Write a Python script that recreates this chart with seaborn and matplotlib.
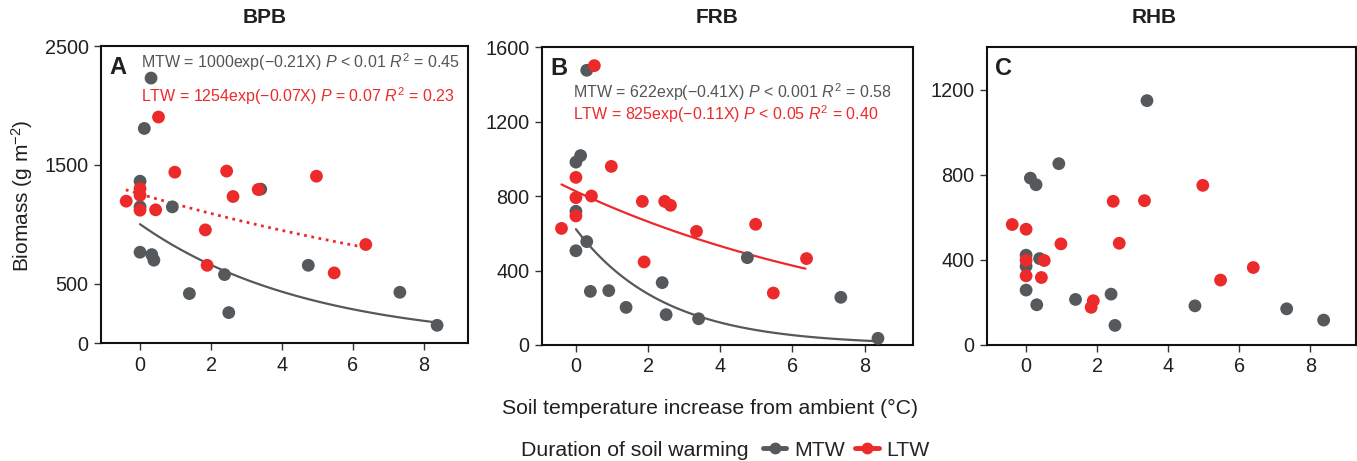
import numpy as np
import pandas as pd
import matplotlib
matplotlib.use("Agg")
import matplotlib.pyplot as plt
from matplotlib.lines import Line2D
import seaborn as sns

# ---------------- data ----------------
# Panel A: BPB
bpb_mtw_x = [0.31, 0.12, 0.0, 0.0, 0.91, 0.0, 0.33, 0.39, 1.39, 2.38, 2.50, 3.40, 4.74, 7.32, 8.37]
bpb_mtw_y = [2230, 1806, 1362, 1146, 1146, 764, 744, 697, 416, 576, 256, 1295, 654, 427, 149]
bpb_ltw_x = [0.52, -0.39, 0.0, 0.0, 0.0, 0.44, 0.98, 2.44, 2.62, 3.33, 4.97, 1.84, 1.89, 5.47, 6.36]
bpb_ltw_y = [1902, 1194, 1300, 1244, 1118, 1121, 1438, 1447, 1233, 1292, 1404, 952, 654, 590, 829]

# Panel B: FRB
frb_mtw_x = [0.30, 0.0, 0.13, 0.0, 0.0, 0.30, 0.40, 0.91, 1.39, 2.39, 2.50, 3.40, 4.75, 7.34, 8.37]
frb_mtw_y = [1475, 982, 1017, 718, 506, 555, 288, 292, 202, 335, 163, 141, 469, 256, 36]
frb_ltw_x = [0.51, 0.0, 0.0, 0.0, -0.40, 0.43, 0.98, 1.84, 1.89, 2.46, 2.62, 3.34, 4.98, 5.47, 6.39]
frb_ltw_y = [1500, 900, 791, 693, 626, 800, 959, 771, 446, 771, 750, 610, 648, 279, 464]

# Panel C: RHB
rhb_mtw_x = [3.40, 0.92, 0.12, 0.28, 0.0, 0.0, 0.38, 0.0, 0.30, 1.39, 2.39, 2.50, 4.75, 7.33, 8.37]
rhb_mtw_y = [1148, 852, 784, 753, 422, 370, 406, 258, 189, 214, 239, 92, 184, 170, 117]
rhb_ltw_x = [-0.39, 0.0, 0.0, 0.0, 0.51, 0.43, 0.98, 1.89, 1.83, 2.45, 2.62, 3.33, 4.97, 5.47, 6.39]
rhb_ltw_y = [566, 544, 398, 325, 397, 317, 475, 208, 177, 675, 478, 678, 750, 305, 364]

# Fitted models: a * exp(b * X) over fitted X range
bpb_fit_mtw = (1000, -0.21, 0.0, 8.37)
bpb_fit_ltw = (1254, -0.07, -0.40, 6.36)
frb_fit_mtw = (622, -0.41, 0.0, 8.37)
frb_fit_ltw = (825, -0.11, -0.40, 6.36)

titles = ["BPB", "FRB", "RHB"]
letters = ["A", "B", "C"]
groups = ["MTW", "LTW"]

bpb_eq = ["MTW = 1000exp(\u22120.21X) $\\it{P}$ < 0.01 $\\it{R}^2$ = 0.45",
          "LTW = 1254exp(\u22120.07X) $\\it{P}$ = 0.07 $\\it{R}^2$ = 0.23"]
frb_eq = ["MTW = 622exp(\u22120.41X) $\\it{P}$ < 0.001 $\\it{R}^2$ = 0.58",
          "LTW = 825exp(\u22120.11X) $\\it{P}$ < 0.05 $\\it{R}^2$ = 0.40"]

bpb_yticks = [0, 500, 1500, 2500]
frb_yticks = [0, 400, 800, 1200, 1600]
rhb_yticks = [0, 400, 800, 1200]
xticks = [0, 2, 4, 6, 8]

# ---------------- style ----------------
sns.set_style("ticks")
plt.rcParams["font.family"] = ["Liberation Sans", "DejaVu Sans"]
plt.rcParams["mathtext.fontset"] = "custom"
plt.rcParams["mathtext.rm"] = "Liberation Sans"
plt.rcParams["mathtext.it"] = "Liberation Sans:italic"
plt.rcParams["mathtext.bf"] = "Liberation Sans:bold"
plt.rcParams["mathtext.default"] = "regular"

GRAY = "#55595b"
RED = "#ec2a2a"
TXT = "#231f20"
palette = {"MTW": GRAY, "LTW": RED}

W, H = 1357, 461
fig = plt.figure(figsize=(W / 100, H / 100), dpi=100)

def box(l, r, t, b):
    return [l / W, (H - b) / H, (r - l) / W, (b - t) / H]

ax_pos = [box(101, 468, 46, 343), box(542, 913, 47, 345), box(987, 1356, 47, 345)]
xlims = [(-1.1, 9.24), (-0.94, 9.34), (-1.1, 9.28)]
ylims = [(0, 2500), (0, 1600), (0, 1400)]
yticks_all = [bpb_yticks, frb_yticks, rhb_yticks]
title_x = [265, 717, 1154]
panels = [
    (bpb_mtw_x, bpb_mtw_y, bpb_ltw_x, bpb_ltw_y),
    (frb_mtw_x, frb_mtw_y, frb_ltw_x, frb_ltw_y),
    (rhb_mtw_x, rhb_mtw_y, rhb_ltw_x, rhb_ltw_y),
]
fits = [(bpb_fit_mtw, bpb_fit_ltw), (frb_fit_mtw, frb_fit_ltw), None]
fit_styles = [(("-", GRAY), (":", RED)), (("-", GRAY), ("-", RED)), None]
eqs = [bpb_eq, frb_eq, None]
# x, baseline of line 1, baseline of line 2 (axes fraction)
eq_pos = [(0.108, 0.926, 0.811), (0.084, 0.830, 0.755), None]

axes = []
for i in range(3):
    ax = fig.add_axes(ax_pos[i])
    axes.append(ax)
    mx, my, lx, ly = panels[i]
    df = pd.DataFrame({
        "x": list(mx) + list(lx),
        "y": list(my) + list(ly),
        "g": ["MTW"] * len(mx) + ["LTW"] * len(lx),
    })
    if fits[i] is not None:
        for (a, b, x0, x1), (ls, col) in zip(fits[i], fit_styles[i]):
            xs = np.linspace(x0, x1, 100)
            ax.plot(xs, a * np.exp(b * xs), ls=ls, color=col, lw=2.0 if ls == ":" else 1.6,
                    zorder=1)
    sns.scatterplot(data=df, x="x", y="y", hue="g", hue_order=groups, palette=palette,
                    s=85, linewidth=0, alpha=1, ax=ax, legend=False, zorder=3)
    ax.set_xlim(*xlims[i])
    ax.set_ylim(*ylims[i])
    ax.set_xticks(xticks)
    ax.set_yticks(yticks_all[i])
    ax.set_xlabel("")
    ax.set_ylabel("")
    for s in ax.spines.values():
        s.set_visible(True)
        s.set_linewidth(1.5)
        s.set_color("#111111")
    ax.tick_params(axis="both", direction="out", length=5, width=1.0, labelsize=14.3,
                   colors="#333333", labelcolor=TXT, pad=4)
    fig.text(title_x[i] / W, 1 - 17.5 / H, titles[i], fontsize=15, fontweight="bold",
             color=TXT, ha="center", va="center")
    ax.text(0.022, 0.965, letters[i], transform=ax.transAxes, fontsize=17,
            fontweight="bold", color=TXT, va="top", ha="left")
    if eqs[i] is not None:
        x0, y0, y1 = eq_pos[i]
        ax.text(x0, y0, eqs[i][0], transform=ax.transAxes, fontsize=11.5,
                color="#555555", va="baseline", ha="left")
        ax.text(x0, y1, eqs[i][1], transform=ax.transAxes, fontsize=11.5,
                color=RED, va="baseline", ha="left")

fig.text(22.5 / W, 1 - 196 / H, "Biomass (g m$^{-2}$)", rotation=90, fontsize=15,
         color=TXT, ha="center", va="center")

fig.text(710 / W, 1 - 408 / H, "Soil temperature increase from ambient (\u00b0C)",
         ha="center", va="center", fontsize=15.3, color=TXT)
fig.text(749 / W, 1 - 450 / H, "Duration of soil warming", ha="right", va="center",
         fontsize=15.3, color=TXT)
handles = [Line2D([0], [0], color=palette[g], marker="o", markersize=7.5, lw=3.5) for g in groups]
fig.legend(handles, groups, loc="center left", bbox_to_anchor=(763 / W, 1 - 450 / H),
           ncol=2, frameon=False, fontsize=15.3, handlelength=1.1, handletextpad=0.35,
           columnspacing=0.5, borderaxespad=0, borderpad=0)

fig.savefig("out.png", dpi=100)
